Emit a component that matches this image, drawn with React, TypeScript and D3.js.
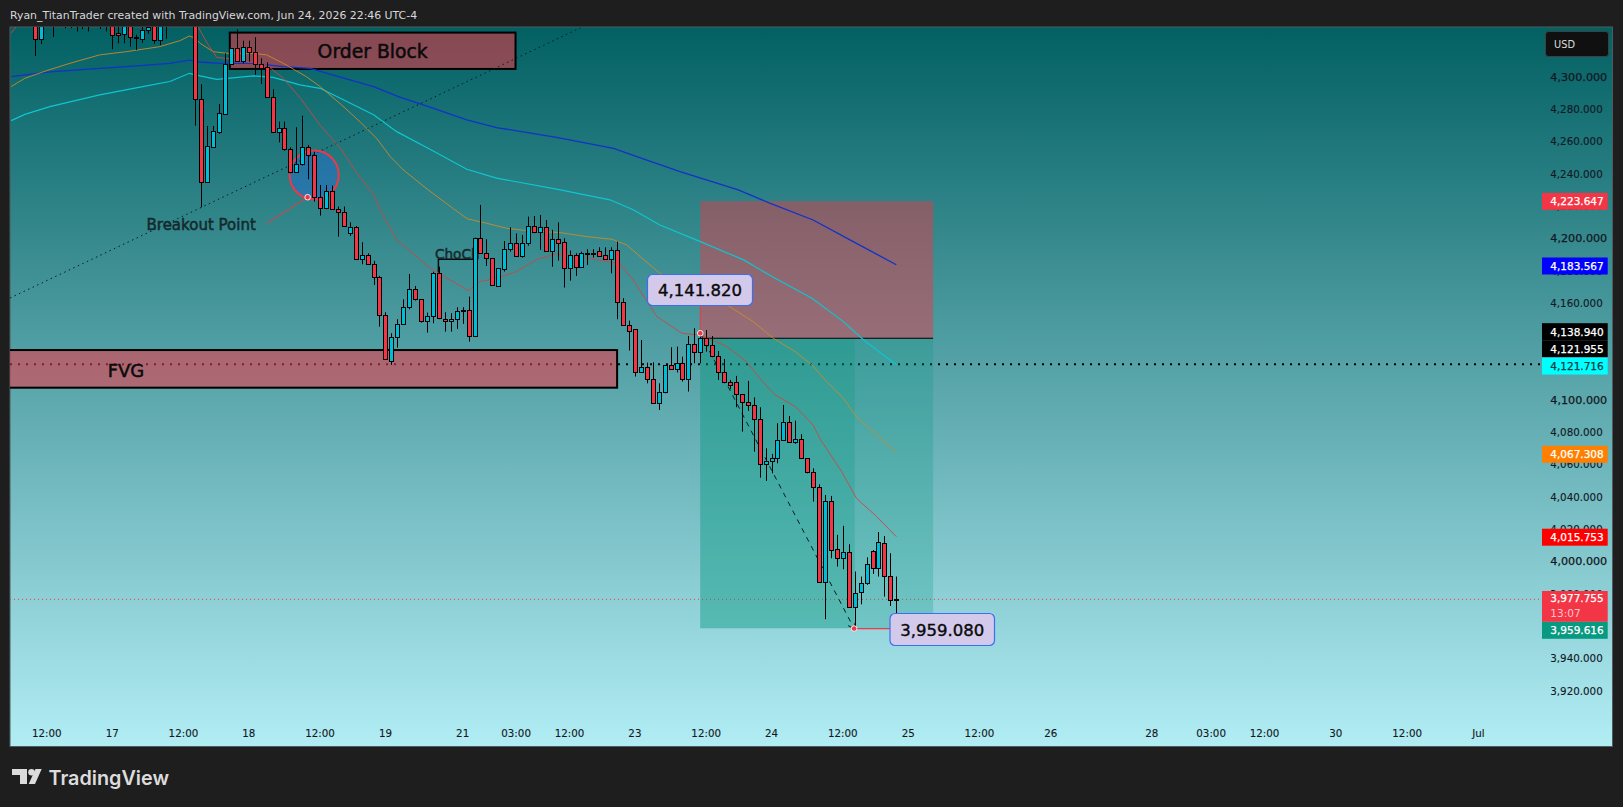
import { useEffect, useRef } from 'react';
import * as d3 from 'd3';

const WIDTH = 1623;
const HEIGHT = 807;

// hourly candles, [open, high, low, close]. The first ones run above the top of the pane
const candles: [number, number, number, number][] = [
    [4340, 4352, 4336, 4346], [4346, 4356, 4338, 4350], [4350, 4358, 4340, 4344], [4344, 4352, 4336, 4348],
    [4342, 4345, 4312.8, 4323.5], [4323.2, 4356, 4320.3, 4350], [4345, 4358, 4338, 4352], [4338, 4350, 4324.6, 4335],
    [4340, 4352, 4333, 4344], [4344, 4352, 4330, 4340], [4340, 4350, 4330, 4345], [4345, 4352, 4328, 4338],
    [4338, 4350, 4329.5, 4344], [4344, 4350, 4328, 4337], [4337, 4348, 4333, 4343], [4343, 4350, 4329.5, 4336],
    [4336, 4346, 4328, 4342], [4342, 4350, 4317, 4326], [4327, 4338, 4320.7, 4326], [4326.3, 4345, 4320.7, 4340],
    [4340, 4345, 4318.6, 4324.4], [4324.8, 4326, 4316.6, 4324], [4323.6, 4333, 4321, 4328.7], [4328.7, 4336, 4326.6, 4331],
    [4338, 4345, 4320.4, 4322.5], [4322.5, 4345, 4319.5, 4340], [4338, 4350, 4323.5, 4334], [4334, 4346, 4333, 4342],
    [4342, 4352, 4336, 4338], [4338, 4356, 4335, 4350], [4350, 4362, 4342, 4352], [4352, 4360, 4269.7, 4286],
    [4286, 4295.3, 4219.2, 4235], [4235, 4269.5, 4235, 4257.1], [4256.7, 4269.5, 4256.7, 4266.4], [4266, 4283.1, 4264.6, 4277.4],
    [4276.9, 4314.5, 4276.3, 4307.7], [4307.7, 4317.6, 4307.7, 4317.6], [4317.6, 4329.3, 4309.3, 4309.9], [4309.9, 4322.3, 4308.3, 4318.6],
    [4318.6, 4322.3, 4309.3, 4315.1], [4315.1, 4324.4, 4301.1, 4307.7], [4307.7, 4311.4, 4295.5, 4305.6], [4305.8, 4308.9, 4287, 4287.7],
    [4287.7, 4292.2, 4265.4, 4266], [4266, 4272.2, 4259.4, 4268], [4268, 4272.2, 4254.2, 4255], [4255, 4256.3, 4240.2, 4241.2],
    [4241.2, 4268.7, 4240.6, 4245.8], [4245.8, 4275.9, 4245, 4256.3], [4256.3, 4257.7, 4236.5, 4251.3], [4251.3, 4253.6, 4222.7, 4225.8],
    [4225.8, 4233, 4214, 4219], [4219, 4233, 4218, 4229.5], [4229.5, 4232.6, 4217.5, 4217.9], [4217.9, 4219.6, 4201, 4216.5],
    [4216.5, 4219.6, 4207.2, 4207.8], [4203.5, 4209.9, 4201.4, 4206.8], [4206.8, 4207.6, 4187.2, 4187.4], [4187.4, 4197.5, 4183.9, 4189.9],
    [4189.9, 4190.7, 4183.9, 4183.9], [4183.9, 4186, 4171.1, 4175.8], [4175.8, 4176.7, 4145.3, 4152.7], [4152.7, 4154.2, 4125.1, 4125.1],
    [4124.3, 4141.2, 4121.6, 4138.7], [4138.7, 4149.9, 4132.3, 4146.8], [4146.8, 4162.2, 4146.8, 4157.3], [4157.3, 4177.9, 4156, 4168.4],
    [4168.4, 4170.5, 4161.4, 4162.2], [4162.2, 4162.2, 4147.8, 4149], [4148.6, 4154, 4141.6, 4151.7], [4151.7, 4179.3, 4147.4, 4178.3],
    [4178.3, 4182.4, 4149.9, 4150.5], [4150.3, 4154.2, 4142.2, 4148.6], [4148.6, 4153.6, 4142.2, 4150.3], [4150.3, 4157.3, 4143.9, 4154.8],
    [4155.8, 4157.3, 4147, 4155.4], [4155.4, 4163.9, 4136, 4139.5], [4139.5, 4200.4, 4139.5, 4200.4], [4200.4, 4220.6, 4190.7, 4190.7],
    [4190.7, 4199.4, 4182.9, 4187.6], [4187.6, 4187.6, 4170.7, 4170.9], [4170.7, 4181.4, 4170.1, 4181.4], [4180.8, 4198.3, 4179.4, 4193.2],
    [4193.2, 4206.8, 4191.7, 4196.9], [4196.9, 4203, 4188.6, 4189.3], [4189.3, 4202, 4188, 4196.9], [4196.9, 4213.4, 4195.4, 4207.6],
    [4207.6, 4213.8, 4203.1, 4203.7], [4204.1, 4214.4, 4192.8, 4206.8], [4206.8, 4211.3, 4192.4, 4192.4], [4192.4, 4205.2, 4182.4, 4199.4],
    [4199.4, 4209.9, 4186.2, 4197.3], [4197.5, 4200, 4169.5, 4181.8], [4181.8, 4192.4, 4173.8, 4189.5], [4189.5, 4190.7, 4176.7, 4182.4],
    [4182.4, 4191.7, 4182.4, 4190.7], [4190.8, 4193.2, 4183.5, 4190.6], [4190.7, 4193.2, 4188, 4190], [4191.9, 4194.4, 4189.3, 4189.3],
    [4189.5, 4194.4, 4187, 4187], [4187, 4194.4, 4178.3, 4192.6], [4192.6, 4197.9, 4149.9, 4160.4], [4160.4, 4162.9, 4145.7, 4146.1],
    [4146.1, 4149, 4130.5, 4142.8], [4143.7, 4143.7, 4114.4, 4117.5], [4117.5, 4137, 4117.5, 4120.2], [4120.2, 4123, 4110.2, 4113.1],
    [4113.1, 4123.2, 4097.9, 4097.9], [4097.9, 4110.2, 4093.7, 4104.7], [4104.7, 4121.4, 4104, 4121.4], [4121.4, 4132.5, 4118.9, 4118.9],
    [4118.9, 4132.9, 4116.9, 4122.6], [4122.6, 4126.7, 4111.3, 4112.7], [4112.7, 4139.5, 4105.1, 4134.4], [4134.4, 4144.3, 4122.6, 4129.4],
    [4129.4, 4142.2, 4122.6, 4138], [4138, 4143.2, 4129.8, 4133.7], [4133.7, 4139.5, 4126.3, 4127], [4127, 4130.2, 4112.3, 4117],
    [4117, 4125.3, 4110.2, 4110.8], [4110.8, 4112.3, 4106.5, 4109.4], [4110.8, 4114.8, 4095.4, 4103.4], [4103.4, 4103.4, 4080.3, 4098.5],
    [4098.5, 4111.7, 4093.1, 4096.6], [4096.6, 4101.5, 4067.9, 4087.9], [4087.9, 4095.4, 4051.8, 4060.1], [4060.1, 4070, 4049.8, 4061.9],
    [4061.9, 4066.5, 4054.5, 4063.8], [4063.8, 4085.5, 4060.7, 4074.9], [4074.9, 4096.8, 4074.9, 4086.1], [4086.1, 4090, 4073.7, 4073.7],
    [4073.7, 4087.1, 4072.7, 4075.6], [4075.6, 4078.7, 4063.8, 4063.8], [4063.8, 4063.8, 4054.5, 4055.1], [4055.1, 4057.6, 4037, 4045.9],
    [4045.9, 4047.7, 3987, 3987], [3987, 4041.1, 3964.2, 4037.2], [4037.2, 4040.5, 4001.9, 4006.9], [4007.5, 4016.4, 3996.8, 4001.9],
    [4001.9, 4022, 3995.1, 4005.6], [4005.6, 4010.6, 3971.6, 3971.6], [3972, 3993.7, 3959.6, 3980.3], [3980.9, 3990.6, 3973.4, 3986.9],
    [3986.9, 4002.5, 3985.4, 3998.2], [4006.3, 4007, 3992.2, 3995.7], [3995.7, 4018.2, 3990.6, 4011.8], [4011.2, 4015.7, 3978.2, 3990.8],
    [3990.8, 4005, 3972.4, 3975.9], [3976.8, 3990.6, 3962.1, 3976.4],
];

// moving averages as [candle index, price]
const maFast: [number, number][] = [
    [0, 4327], [1.7, 4335], [8, 4345], [20, 4352], [29, 4345], [31.5, 4330.6], [33, 4320.7], [34.6, 4312], [37.4, 4310.8], [43, 4307.3],
    [45.8, 4299], [48.7, 4286.6], [52, 4270], [55.4, 4255.7], [58.2, 4240.3], [61, 4226.9], [62.1, 4217.6], [64.9, 4199],
    [68.3, 4188.6], [70.2, 4182.4], [72.7, 4176.7], [77, 4167.6], [78.9, 4173.2], [81.7, 4175.2], [85.1, 4179.4], [88.5, 4187],
    [91.8, 4190.3], [95.8, 4188.6], [102.5, 4184.1], [104.7, 4174.2], [108.7, 4151.5], [112.9, 4141.2], [116, 4140.1],
    [120.5, 4132.9], [123.8, 4123.6], [126, 4113.3], [128.6, 4103], [132, 4095.8], [135, 4084.4], [136.2, 4075.6], [139.8, 4055.6],
    [142.3, 4039], [145.7, 4027.7], [149, 4015.3],
];
const maOrange: [number, number][] = [
    [0, 4293.9], [2.3, 4299], [6, 4303.8], [9.9, 4308.3], [14.9, 4313.5], [19.4, 4315.5], [25, 4318.6], [28.4, 4322.3], [30, 4325.2],
    [31, 4323.8], [31.8, 4320.7], [34, 4315.5], [36.3, 4314.5], [40.8, 4314.5], [43, 4313.5], [45.8, 4308.3], [49.7, 4300], [52, 4293.9],
    [55.4, 4283.2], [58.7, 4272.2], [61.5, 4261.9], [63.8, 4250.6], [66, 4242.3], [70.2, 4229.9], [74.7, 4217.6], [76.8, 4212],
    [80, 4209.3], [83.4, 4206.2], [86.8, 4204.7], [92.4, 4203.5], [96.9, 4201], [101.1, 4199.4], [103.6, 4195.9], [105.9, 4188.6],
    [109.2, 4178.3], [116, 4166], [120.5, 4158.7], [124.9, 4148.4], [128.3, 4138.1], [132, 4129.8], [134.8, 4121.6], [137, 4112.3],
    [140.1, 4100.9], [142.3, 4089.6], [145.7, 4078.2], [149, 4067.3],
];
const maCyan: [number, number][] = [
    [0, 4272.8], [2.3, 4276.7], [6.5, 4281.5], [14.9, 4288.7], [21.7, 4293.5], [26.7, 4297], [30, 4302.1], [31.8, 4300.5], [34.6, 4298.4],
    [40.8, 4300.5], [44.1, 4299.6], [48.6, 4294.9], [52, 4292.8], [55.4, 4286.7], [61, 4276.4], [64.9, 4266], [70.5, 4255.1], [76.7, 4242.7],
    [81.7, 4237.2], [91.8, 4230.4], [100.8, 4223.8], [104.7, 4217.6], [109.2, 4208.2], [116, 4197.9], [123.3, 4186.6], [128.3, 4175.8],
    [134.8, 4162.9], [140.1, 4148.4], [143.5, 4137], [149, 4121.7],
];
const maBlue: [number, number][] = [
    [0, 4300], [6.5, 4303], [14.9, 4305.2], [21.7, 4306.9], [26.7, 4308.3], [30, 4310.2], [31.8, 4309.1], [35.2, 4308.3], [40.8, 4308.3],
    [45.8, 4306.2], [50.3, 4305.2], [55.4, 4299.7], [61, 4293.9], [65.4, 4287.3], [71, 4280.5], [76.7, 4273.3], [81.7, 4268.5], [91.8, 4262.5],
    [101.4, 4255.7], [105.8, 4249.9], [112.6, 4241.3], [122.4, 4229.9], [127.8, 4221.6], [135, 4211.3], [141.2, 4199], [149, 4183.6],
];

// 4,320, 4,140, 4,120 and 3,960 sit fully under the boxes of the scale, so they are left out
const priceTicks = [3920, 3940, 3980, 4000, 4020, 4040, 4060, 4080, 4100, 4160, 4180, 4200, 4220, 4240, 4260, 4280, 4300];
const boldPriceTicks = [4000, 4100, 4200, 4300];
const timeTicks: [number, string][] = [
    [6, '12:00'], [17, '17'], [29, '12:00'], [40, '18'], [52, '12:00'], [63, '19'], [76, '21'], [85, '03:00'], [94, '12:00'], [105, '23'],
    [117, '12:00'], [128, '24'], [140, '12:00'], [151, '25'], [163, '12:00'], [175, '26'], [192, '28'], [202, '03:00'], [211, '12:00'],
    [223, '30'], [235, '12:00'], [247, 'Jul'],
];

// labels on the price scale: price, background, text colour
const priceLabels: [number, string, string][] = [
    [4223.647, '#f23645', '#ffffff'],
    [4183.567, '#0000ff', '#ffffff'],
    [4138.94, '#000000', '#ffffff'],
    [4121.955, '#000000', '#ffffff'],
    [4121.716, '#00ffff', '#0b3b40'],
    [4067.308, '#ff7f00', '#ffffff'],
    [4015.753, '#ff0000', '#ffffff'],
    [3959.616, '#089981', '#ffffff'],
];
const lastPrice = 3977.755;
const lastCandleClose = 3976.5;
const countdown = '13:07';
const fvgLevel = 4121.955;

const orderBlock = { left: 36.8, right: 84.9, top: 4327.3, bottom: 4304.8 };
const fvg = { left: -1, right: 102, top: 4130.8, bottom: 4107.5 };
const position = { left: 116, mid: 142, right: 155.2, stop: 4223, entry: 4138.1, target: 3958.6 };

const noteTexts = ['4,141.820', '3,959.080'];

export default function App() {
    const ref = useRef<SVGSVGElement>(null);

    useEffect(() => {
        if (!ref.current) return;
        const svg = d3.select(ref.current);
        svg.selectAll('*').remove();

        const pane = { left: 10, top: 27, right: 1612.5, bottom: 746.5 };
        const xScale = d3.scaleLinear().domain([0, 149]).range([11.2, 896.3]);
        const yScale = d3.scaleLinear().domain([3920, 4300]).range([690.6, 76.7]);
        const fmt = d3.format(',.3f');
        const font = '"DejaVu Sans", sans-serif';

        svg.append('rect').attr('width', WIDTH).attr('height', HEIGHT).attr('fill', '#1e1e1e');

        const defs = svg.append('defs');
        const grad = defs.append('linearGradient').attr('id', 'bg').attr('x1', 0).attr('y1', 0).attr('x2', 0).attr('y2', 1);
        grad.append('stop').attr('offset', '0%').attr('stop-color', '#026063');
        grad.append('stop').attr('offset', '100%').attr('stop-color', '#b2edf4');
        defs.append('clipPath').attr('id', 'pane').append('rect')
            .attr('x', pane.left).attr('y', pane.top)
            .attr('width', pane.right - pane.left).attr('height', pane.bottom - pane.top);

        // header
        svg.append('text').attr('x', 10).attr('y', 18.5)
            .attr('font-family', font).attr('font-size', 10.9).attr('fill', '#d6d8dc')
            .text('Ryan_TitanTrader created with TradingView.com, Jun 24, 2026 22:46 UTC-4');

        svg.append('rect')
            .attr('x', pane.left).attr('y', pane.top)
            .attr('width', pane.right - pane.left).attr('height', pane.bottom - pane.top)
            .attr('fill', 'url(#bg)').attr('stroke', '#4d5c5e').attr('stroke-width', 1);

        const g = svg.append('g').attr('clip-path', 'url(#pane)');

        // price level lines
        g.append('line')
            .attr('x1', pane.left).attr('x2', 1540)
            .attr('y1', yScale(fvgLevel)).attr('y2', yScale(fvgLevel))
            .attr('stroke', '#000').attr('stroke-width', 2).attr('stroke-dasharray', '2 6');
        g.append('line')
            .attr('x1', pane.left).attr('x2', 1540)
            .attr('y1', yScale(lastCandleClose)).attr('y2', yScale(lastCandleClose))
            .attr('stroke', '#f23645').attr('stroke-width', 1).attr('stroke-dasharray', '1 3');

        // short position boxes
        const boxX = xScale(position.left);
        const boxW = xScale(position.right) - boxX;
        g.append('rect')
            .attr('x', boxX).attr('y', yScale(position.stop))
            .attr('width', boxW).attr('height', yScale(position.entry) - yScale(position.stop))
            .attr('fill', '#f23645').attr('fill-opacity', 0.45);
        g.append('rect')
            .attr('x', boxX).attr('y', yScale(position.entry))
            .attr('width', boxW).attr('height', yScale(position.target) - yScale(position.entry))
            .attr('fill', '#089981').attr('fill-opacity', 0.25);
        g.append('rect')
            .attr('x', boxX).attr('y', yScale(position.entry))
            .attr('width', xScale(position.mid) - boxX).attr('height', yScale(position.target) - yScale(position.entry))
            .attr('fill', '#089981').attr('fill-opacity', 0.25);
        g.append('line')
            .attr('x1', boxX).attr('x2', boxX + boxW)
            .attr('y1', yScale(position.entry)).attr('y2', yScale(position.entry))
            .attr('stroke', '#000').attr('stroke-width', 1.2);

        // order block and fvg zones
        [orderBlock, fvg].forEach((zone) => {
            g.append('rect')
                .attr('x', xScale(zone.left)).attr('y', yScale(zone.top))
                .attr('width', xScale(zone.right) - xScale(zone.left))
                .attr('height', yScale(zone.bottom) - yScale(zone.top))
                .attr('fill', '#f23645').attr('fill-opacity', 0.55)
                .attr('stroke', '#000').attr('stroke-width', 2);
        });
        g.append('text')
            .attr('x', (xScale(orderBlock.left) + xScale(orderBlock.right)) / 2)
            .attr('y', (yScale(orderBlock.top) + yScale(orderBlock.bottom)) / 2 + 7)
            .attr('text-anchor', 'middle').attr('font-family', font).attr('font-size', 18.8)
            .attr('fill', '#0a0a0a').attr('stroke', '#0a0a0a').attr('stroke-width', 0.5)
            .text('Order Block');
        g.append('text')
            .attr('x', 126).attr('y', yScale(fvg.top) + 26.5)
            .attr('text-anchor', 'middle').attr('font-family', font).attr('font-size', 18)
            .attr('fill', '#0a0a0a').attr('stroke', '#0a0a0a').attr('stroke-width', 0.5)
            .text('FVG');

        // trend line through the breakout
        g.append('line')
            .attr('x1', xScale(-0.2)).attr('y1', yScale(4163))
            .attr('x2', xScale(95.8)).attr('y2', yScale(4330.2))
            .attr('stroke', '#0c1a1c').attr('stroke-width', 1).attr('stroke-dasharray', '1.5 3.5');

        // breakout circle
        g.append('circle')
            .attr('cx', xScale(51)).attr('cy', yScale(4239.2)).attr('r', 24.5)
            .attr('fill', '#2962ff').attr('fill-opacity', 0.3)
            .attr('stroke', '#f23645').attr('stroke-width', 2);
        g.append('line')
            .attr('x1', 266.7).attr('y1', 223.3)
            .attr('x2', xScale(49.9)).attr('y2', yScale(4225.4))
            .attr('stroke', '#f23645').attr('stroke-width', 1);
        g.append('text')
            .attr('x', 146.5).attr('y', 229.5)
            .attr('font-family', font).attr('font-size', 15)
            .attr('fill', '#14292b').attr('stroke', '#14292b').attr('stroke-width', 0.5)
            .text('Breakout Point');

        // ChoCh marker
        g.append('path')
            .attr('d', `M${xScale(72) - 0.5},${yScale(4178.3)}V${yScale(4187)}H${xScale(78)}`)
            .attr('fill', 'none').attr('stroke', '#0a0a0a').attr('stroke-width', 1.5);
        g.append('text')
            .attr('x', 435).attr('y', 259)
            .attr('font-family', font).attr('font-size', 13.6)
            .attr('fill', '#14292b').attr('stroke', '#14292b').attr('stroke-width', 0.45)
            .text('ChoCh');

        // moving averages
        const line = d3.line<[number, number]>()
            .x((d) => xScale(d[0]))
            .y((d) => yScale(d[1]));
        const maColors: [[number, number][], string, number][] = [
            [maBlue, '#1232c8', 1.3],
            [maCyan, '#0fc5cf', 1.2],
            [maOrange, '#cc8a2c', 0.9],
            [maFast, '#cc4644', 0.9],
        ];
        maColors.forEach(([values, color, width]) => {
            g.append('path').datum(values)
                .attr('fill', 'none').attr('stroke', color).attr('stroke-width', width)
                .attr('d', line);
        });

        // dashed path from entry down to the low, with arrow head
        const pointA: [number, number] = [116, 4141.2];
        const pointB: [number, number] = [141.9, 3958.4];
        g.append('line')
            .attr('x1', xScale(pointA[0])).attr('y1', yScale(pointA[1]))
            .attr('x2', xScale(pointB[0])).attr('y2', yScale(pointB[1]))
            .attr('stroke', '#0a1a1c').attr('stroke-width', 1).attr('stroke-dasharray', '5 5');
        g.append('path')
            .attr('d', `M${xScale(pointB[0]) - 6},${yScale(pointB[1]) - 3}L${xScale(pointB[0])},${yScale(pointB[1])}L${xScale(pointB[0]) + 1},${yScale(pointB[1]) - 6}`)
            .attr('fill', 'none').attr('stroke', '#0a1a1c').attr('stroke-width', 1);

        // thin red leaders of the two price notes
        g.append('line')
            .attr('x1', xScale(pointA[0])).attr('x2', xScale(pointA[0]))
            .attr('y1', yScale(pointA[1])).attr('y2', 300)
            .attr('stroke', '#f23645').attr('stroke-width', 1);
        g.append('line')
            .attr('x1', xScale(pointB[0])).attr('x2', 892)
            .attr('y1', yScale(pointB[1])).attr('y2', yScale(pointB[1]))
            .attr('stroke', '#f23645').attr('stroke-width', 1.2);

        // candles
        const candleG = g.append('g');
        candles.forEach((d, i) => {
            const [open, high, low, close] = d;
            const cx = Math.round(xScale(i)) + 0.5;
            candleG.append('line')
                .attr('x1', cx).attr('x2', cx)
                .attr('y1', yScale(high)).attr('y2', yScale(low))
                .attr('stroke', '#000').attr('stroke-width', 1);
            const top = Math.round(yScale(Math.max(open, close))) + 0.5;
            const bottom = Math.round(yScale(Math.min(open, close))) + 0.5;
            candleG.append('rect')
                .attr('x', cx - 2).attr('y', top)
                .attr('width', 4).attr('height', Math.max(bottom - top, 1))
                .attr('fill', close >= open ? '#00bcd4' : '#f23645')
                .attr('stroke', '#000').attr('stroke-width', 1);
        });

        // anchor dots
        const anchors: [number, number][] = [pointA, pointB, [49.9, 4225.4]];
        anchors.forEach(([i, price]) => {
            g.append('circle')
                .attr('cx', xScale(i)).attr('cy', yScale(price)).attr('r', 2.8)
                .attr('fill', '#f23645').attr('stroke', '#f0f0f0').attr('stroke-width', 1);
        });

        // price notes
        const noteBoxes: [number, number, number, number][] = [
            [647.5, 274.5, 105, 31],
            [890, 613.5, 104.5, 32],
        ];
        noteBoxes.forEach(([x, y, w, h], i) => {
            g.append('rect')
                .attr('x', x).attr('y', y).attr('width', w).attr('height', h).attr('rx', 5)
                .attr('fill', '#d3c9ea').attr('stroke', '#3d6ef0').attr('stroke-width', 1.2);
            g.append('text')
                .attr('x', x + w / 2).attr('y', y + h / 2 + 6)
                .attr('text-anchor', 'middle').attr('font-family', font).attr('font-size', 16.5)
                .attr('fill', '#0a0a0a').attr('stroke', '#0a0a0a').attr('stroke-width', 0.4)
                .text(noteTexts[i]);
        });

        // price scale
        priceTicks.forEach((tick) => {
            const big = boldPriceTicks.includes(tick);
            svg.append('text')
                .attr('x', 1550.3).attr('y', yScale(tick) + 4)
                .attr('font-family', font).attr('font-size', big ? 11.2 : 10.3)
                .attr('fill', '#131722').attr('stroke', '#131722').attr('stroke-width', big ? 0.25 : 0.1)
                .text(fmt(tick));
        });

        // the scale stacks labels that would overlap, hence the small shifts
        const labelShift = [1.3, 1.2, -5.2, -15.6, 1.3, 1.7, 1.3, 3.7];
        priceLabels.forEach(([price, bg, color], i) => {
            const cy = yScale(price) + labelShift[i];
            svg.append('rect')
                .attr('x', 1542).attr('y', cy - 8.5).attr('width', 65.7).attr('height', 17)
                .attr('fill', bg);
            svg.append('text')
                .attr('x', 1550.3).attr('y', cy + 4)
                .attr('font-family', font).attr('font-size', 10.5)
                .attr('fill', color).attr('stroke', color).attr('stroke-width', 0.25)
                .text(fmt(price));
        });
        const lastY = yScale(lastPrice);
        svg.append('rect')
            .attr('x', 1542).attr('y', lastY - 6.3).attr('width', 65.7).attr('height', 30.8)
            .attr('fill', '#f23645');
        svg.append('text')
            .attr('x', 1550.3).attr('y', lastY + 5)
            .attr('font-family', font).attr('font-size', 10.5)
            .attr('fill', '#ffffff').attr('stroke', '#ffffff').attr('stroke-width', 0.25)
            .text(fmt(lastPrice));
        svg.append('text')
            .attr('x', 1550.3).attr('y', lastY + 19.5)
            .attr('font-family', font).attr('font-size', 10.5).attr('fill', '#ffc4cb').text(countdown);

        // currency box
        svg.append('rect')
            .attr('x', 1545.5).attr('y', 31.5).attr('width', 63).attr('height', 25).attr('rx', 3)
            .attr('fill', '#101010').attr('stroke', '#404040').attr('stroke-width', 1);
        svg.append('text')
            .attr('x', 1554).attr('y', 48)
            .attr('font-family', font).attr('font-size', 9.8).attr('fill', '#dcdcdc').text('USD');

        // time scale
        timeTicks.forEach(([i, label]) => {
            svg.append('text')
                .attr('x', xScale(i)).attr('y', 736.5)
                .attr('text-anchor', 'middle').attr('font-family', font).attr('font-size', 10.3)
                .attr('fill', '#131722').attr('stroke', '#131722').attr('stroke-width', 0.1)
                .text(label);
        });

        // logo
        const logo = svg.append('g').attr('fill', '#dcdcdc');
        logo.append('path').attr('d', 'M12,769H27V784H20V775H12Z');
        logo.append('circle').attr('cx', 31.5).attr('cy', 772.3).attr('r', 3.3);
        logo.append('path').attr('d', 'M35.5,769H41.7L35,784H28.7Z');
        logo.append('text')
            .attr('x', 48.5).attr('y', 784.5)
            .attr('font-family', 'Inter, sans-serif').attr('font-size', 19.8).attr('font-weight', 600)
            .text('TradingView');
    }, []);

    return (
        <svg
            ref={ref}
            width={WIDTH}
            height={HEIGHT}
            style={{ position: 'absolute', left: 0, top: 0, display: 'block' }}
        />
    );
}
